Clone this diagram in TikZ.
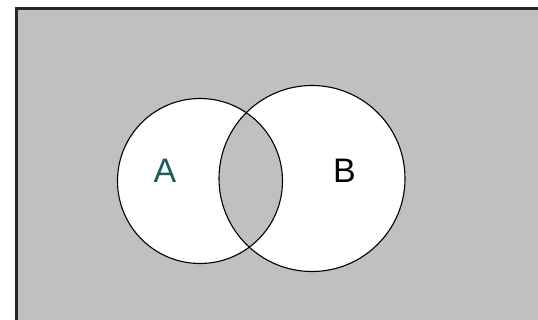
\documentclass[tikz,border=0pt]{standalone}
\usepackage{fontspec}
\setmainfont{Liberation Sans}
\usepackage{xcolor}
\usepackage{tikz}
\definecolor{venngray}{HTML}{C0C0C0}
\definecolor{labelteal}{HTML}{1F5A5F}
\tikzset{
  setline/.style={draw=black, line width=1.1pt},
  setlabel/.style={font=\fontsize{34}{34}\selectfont, inner sep=0pt}
}

\begin{document}
\begin{tikzpicture}[x=1pt, y=-1pt]
  %% picture frame: 538 x 320
  \useasboundingbox (0,0) rectangle (538,320);
  \clip (0,0) rectangle (538,320);

  %% universe
  \draw[fill=venngray, draw=black!85, line width=2.2pt] (16.5,8.5) rectangle (545,330);

  %% the two sets
  \fill[white] (200,181) circle (82.5);
  \fill[white] (312,178.5) circle (93);

  %% intersection A and B
  \begin{scope}
    \clip (200,181) circle (82.5);
    \fill[venngray] (312,178.5) circle (93);
  \end{scope}

  \draw[setline] (200,181) circle (82.5);
  \draw[setline] (312,178.5) circle (93);

  %% labels
  \node[setlabel, text=labelteal] (labA) at (165,171) {A};
  \node[setlabel] (labB) at (344.5,170.5) {B};

\end{tikzpicture}
\end{document}
